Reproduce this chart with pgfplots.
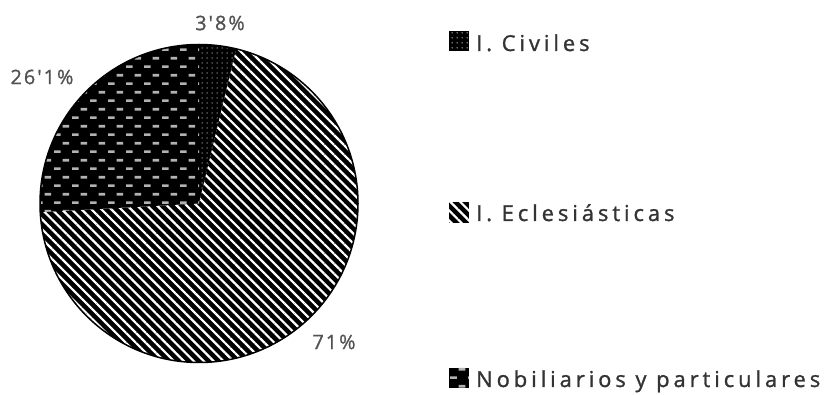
\documentclass[border=0pt]{standalone}
\usepackage{fontspec}
\setmainfont{Open Sans}
\newfontfamily\legfont[LetterSpace=18,FakeBold=1.2]{Open Sans}
\newfontfamily\labfont[LetterSpace=10,FakeBold=1.0]{Open Sans}
\usepackage{pgfplots}
\usepackage{pgfplotstable}
\pgfplotsset{compat=1.18}
\usetikzlibrary{patterns.meta}

\tikzdeclarepattern{
  name=whitedashes, type=uncolored,
  bottom left={(0bp,0bp)}, top right={(18bp,17.4bp)},
  tile size={(18bp,17.4bp)},
  code={\fill (0bp,0bp) rectangle (7bp,2.8bp); \fill (9bp,8.7bp) rectangle (16bp,11.5bp);}
}
\tikzdeclarepattern{
  name=whitedots, type=uncolored,
  bottom left={(0bp,0bp)}, top right={(5bp,5bp)},
  tile size={(5bp,5bp)},
  code={\fill (2.5bp,2.5bp) circle (0.9bp);}
}

\pgfplotstableread{
label value
Civiles 3.8
Eclesiasticas 71
Nobiliarios 26.1
}\piedata

\begin{document}
\begin{tikzpicture}
\pgfplotstablegetelem{0}{value}\of\piedata \let\vA\pgfplotsretval
\pgfplotstablegetelem{1}{value}\of\piedata \let\vB\pgfplotsretval
\pgfplotstablegetelem{2}{value}\of\piedata \let\vC\pgfplotsretval
\pgfmathsetmacro\total{\vA+\vB+\vC}
\pgfmathsetmacro\aS{90}
\pgfmathsetmacro\aA{90-360*(\vA/\total)}
\pgfmathsetmacro\aB{\aA-360*(\vB/\total)}
\pgfmathsetmacro\aC{\aB-360*(\vC/\total)}
\begin{axis}[width=835bp,height=395bp,scale only axis,
  xmin=0,xmax=835,ymin=0,ymax=395,hide axis,clip=false,
  at={(0,0)},anchor=south west]
% Civiles
\fill[black,postaction={pattern=whitedots,pattern color=black!45}]
  (axis cs:199,191.5) -- ++(\aS:159bp) arc[start angle=\aS,end angle=\aA,radius=159bp] -- cycle;
% Eclesiasticas
\fill[black,postaction={pattern={Lines[angle=-45,distance=7bp,line width=2.2bp]},pattern color=white}]
  (axis cs:199,191.5) -- ++(\aA:159bp) arc[start angle=\aA,end angle=\aB,radius=159bp] -- cycle;
% Nobiliarios
\fill[black,postaction={pattern=whitedashes,pattern color=black!30!white}]
  (axis cs:199,191.5) -- ++(\aB:159bp) arc[start angle=\aB,end angle=\aC,radius=159bp] -- cycle;
\draw[line width=1.5bp] (axis cs:199,191.5) circle[radius=159bp];
% value labels
\node[text=black!68,font=\labfont\fontsize{20}{24}\selectfont] at (axis cs:220,372) {3'8\%};
\node[text=black!68,font=\labfont\fontsize{20}{24}\selectfont] at (axis cs:42,318) {26'1\%};
\node[text=black!68,font=\labfont\fontsize{20}{24}\selectfont] at (axis cs:334,53) {71\%};
% legend
\fill[black,postaction={pattern=whitedots,pattern color=black!45}] (axis cs:449,344) rectangle (axis cs:469,364);
\fill[black,postaction={pattern={Lines[angle=-45,distance=7bp,line width=2.2bp]},pattern color=white}] (axis cs:449,172) rectangle (axis cs:469,193);
\fill[black,postaction={pattern=whitedashes,pattern color=black!30!white}] (axis cs:449,7) rectangle (axis cs:469,27);
\node[anchor=base west,inner sep=0pt,text=black!80,font=\legfont\fontsize{22}{26}\selectfont] at (axis cs:476,344) {I. Civiles};
\node[anchor=base west,inner sep=0pt,text=black!80,font=\legfont\fontsize{22}{26}\selectfont] at (axis cs:476,174) {I. Eclesiásticas};
\node[anchor=base west,inner sep=0pt,text=black!80,font=\legfont\fontsize{22}{26}\selectfont] at (axis cs:476,8) {Nobiliarios y particulares};
\end{axis}
\pgfresetboundingbox
\useasboundingbox (current axis.south west) rectangle (current axis.north east);
\end{tikzpicture}
\end{document}
